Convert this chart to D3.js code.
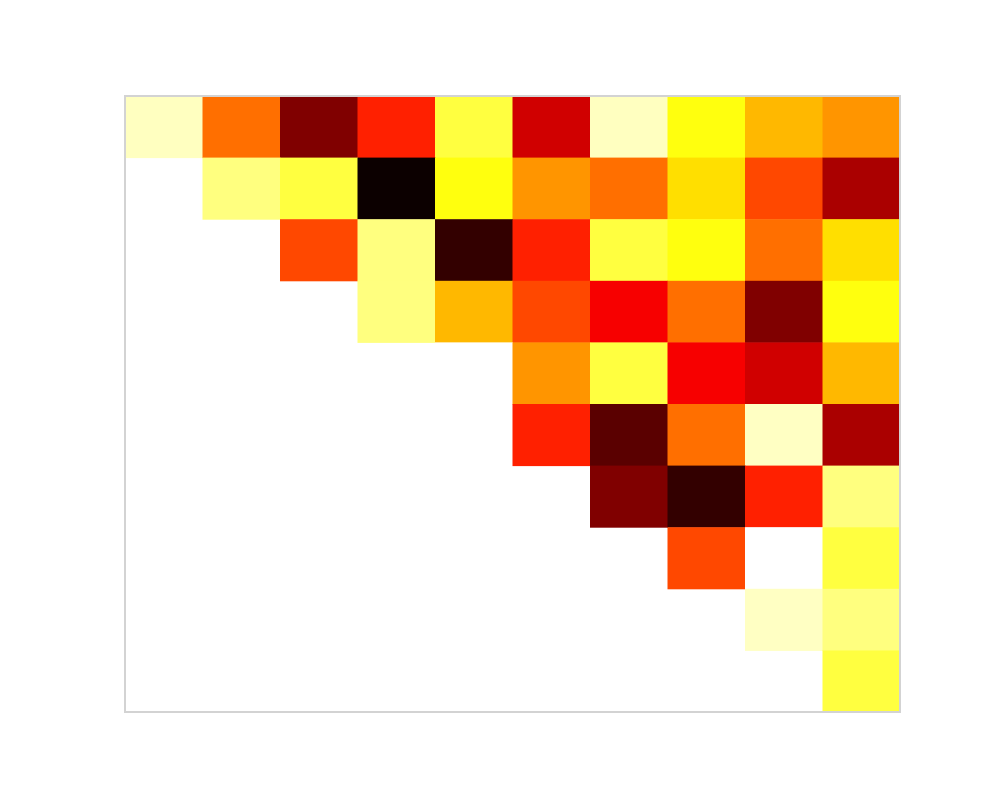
<!DOCTYPE html>
<html><head><meta charset="utf-8">
<script src="https://cdn.jsdelivr.net/npm/d3@7"></script>
<style>body{margin:0;background:#fff}</style>
</head><body>
<script>
// Row/column indices and upper-triangular matrix values (null = empty)
const rows = d3.range(10);
const cols = d3.range(10);
const row0 = [0.937,0.531,0.183,0.413,0.81,0.298,0.937,0.76,0.64,0.588];
const row1 = [null,0.873,0.81,0.017,0.76,0.588,0.531,0.698,0.472,0.243];
const row2 = [null,null,0.472,0.873,0.073,0.413,0.81,0.76,0.531,0.698];
const row3 = [null,null,null,0.873,0.64,0.472,0.354,0.531,0.183,0.76];
const row4 = [null,null,null,null,1.0,0.588,0.81,0.354,0.298,0.64];
const row5 = [null,null,null,null,null,0.413,0.129,0.531,0.94,0.243];
const row6 = [null,null,null,null,null,null,0.183,0.073,0.413,0.873];
const row7 = [null,null,null,null,null,null,null,0.472,1.0,0.81];
const row8 = [null,null,null,null,null,null,null,null,0.94,0.873];
const row9 = [null,null,null,null,null,null,null,null,null,0.81];
const matrix = [row0,row1,row2,row3,row4,row5,row6,row7,row8,row9];

function hot(t){
  const c = v => Math.max(0, Math.min(1, v));
  const r = c(t/0.365079), g = c((t-0.365079)/(0.746032-0.365079)), b = c((t-0.746032)/(1-0.746032));
  return d3.rgb(r*255, g*255, b*255).formatHex();
}

const W = 1000, H = 800;
const m = {left:125, right:100, top:96, bottom:88};
const svg = d3.select("body").append("svg").attr("width", W).attr("height", H);
const x = d3.scaleBand().domain(cols).range([m.left, W - m.right]);
const y = d3.scaleBand().domain(rows).range([m.top, H - m.bottom]);
const color = d3.scaleSequential(hot).domain([0, 1]);

const cells = [];
matrix.forEach((r, i) => r.forEach((v, j) => { if (v !== null) cells.push({i, j, v}); }));

svg.append("g").selectAll("rect").data(cells).join("rect")
  .attr("x", d => x(d.j)).attr("y", d => y(d.i))
  .attr("width", x.bandwidth() + 0.5).attr("height", y.bandwidth() + 0.5)
  .attr("fill", d => color(d.v));

svg.append("rect")
  .attr("x", m.left).attr("y", m.top)
  .attr("width", W - m.left - m.right).attr("height", H - m.top - m.bottom)
  .attr("fill", "none").attr("stroke", "#d3d3d3").attr("stroke-width", 2);
</script>
</body></html>
